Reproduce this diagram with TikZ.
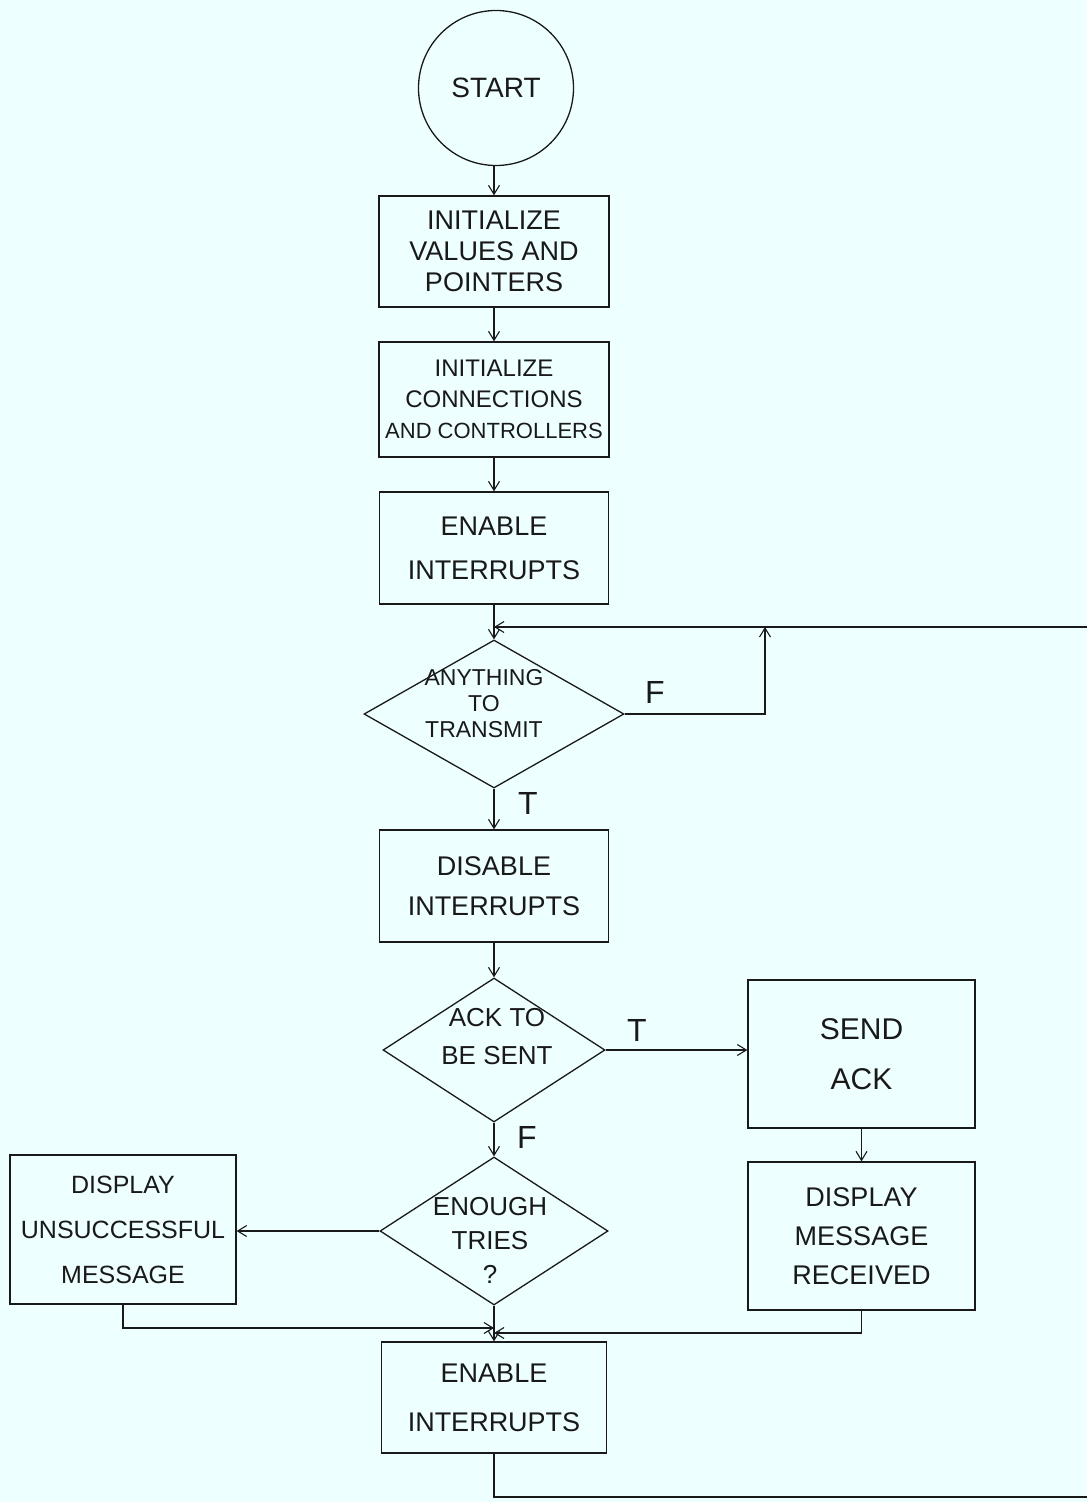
\documentclass[tikz,border=0pt]{standalone}
\usepackage{fontspec}
\setmainfont{Liberation Sans}
\usetikzlibrary{shapes.geometric,arrows.meta}
\definecolor{bg}{RGB}{238,255,255}
\definecolor{ink}{RGB}{25,25,25}
\newcommand\fsz[2]{\fontsize{#1}{#2}\selectfont}
\begin{document}
\begin{tikzpicture}[x=1pt,y=-1pt,
  ln/.style={draw=ink,line width=1.3pt},
  arr/.style={ln,-{Straight Barb[length=9pt,width=11pt,line width=1.1pt]}},
  box/.style={ln,rectangle,inner sep=0pt,align=center,text=ink},
  dia/.style={ln,diamond,inner sep=0pt},
  txt/.style={align=center,text=ink,inner sep=0pt},
  tf/.style={text=ink,inner sep=0pt,font=\fsz{32}{36}}
]
\fill[bg] (0,0) rectangle (1087,1502);
\useasboundingbox (0,0) rectangle (1087,1502);

% nodes
\node[ln,circle,minimum size=155pt,inner sep=0pt,text=ink,font=\fsz{28}{32}] (start) at (496,88) {START};
\node[box,minimum width=230pt,minimum height=111pt,font=\fsz{27}{31}] (b1) at (494,251.5) {INITIALIZE\\VALUES AND\\POINTERS};
\node[box,minimum width=230pt,minimum height=115pt,font=\fsz{22}{31}] (b2) at (494,399.5) {{\fsz{24}{31}INITIALIZE}\\{\fsz{24}{31}CONNECTIONS}\\AND CONTROLLERS};
\node[box,minimum width=229pt,minimum height=112pt,font=\fsz{27}{44}] (b3) at (494,548) {ENABLE\\INTERRUPTS};
\node[dia,minimum width=260pt,minimum height=148pt] (d1) at (494,714) {};
\node[txt,font=\fsz{23}{26}] (d1t) at (484,704) {ANYTHING\\TO\\TRANSMIT};
\node[box,minimum width=229pt,minimum height=112pt,font=\fsz{27}{40}] (b4) at (494,886) {DISABLE\\INTERRUPTS};
\node[dia,minimum width=222pt,minimum height=144pt] (d2) at (494,1050) {};
\node[txt,font=\fsz{26}{38}] (d2t) at (497,1037) {ACK TO\\BE SENT};
\node[box,minimum width=227pt,minimum height=148pt,font=\fsz{30}{50}] (b5) at (861.5,1054) {SEND\\ACK};
\node[box,minimum width=227pt,minimum height=148pt,font=\fsz{27}{39}] (b6) at (861.5,1236) {DISPLAY\\MESSAGE\\RECEIVED};
\node[dia,minimum width=228pt,minimum height=148pt] (d3) at (494,1231) {};
\node[txt,font=\fsz{26}{34}] (d3t) at (490,1240) {ENOUGH\\TRIES\\?};
\node[box,minimum width=226pt,minimum height=149pt,font=\fsz{25}{45}] (b7) at (123,1229.5) {DISPLAY\\UNSUCCESSFUL\\MESSAGE};
\node[box,minimum width=225pt,minimum height=111pt,font=\fsz{27}{49}] (b8) at (494,1397.5) {ENABLE\\INTERRUPTS};

% labels
\node[tf] (lf1) at (655,692) {F};
\node[tf] (lt1) at (528,803) {T};
\node[tf] (lt2) at (637,1030) {T};
\node[tf] (lf2) at (527,1137) {F};

% helper coordinates
\coordinate (fj) at (765,627);
\coordinate (rt) at (1087,627);
\coordinate (rb) at (1087,1497);
\coordinate (m1) at (494,1328);
\coordinate (m2) at (494,1333);

% connectors
\draw[arr] (b1.north |- start.south) -- (b1.north);
\draw[arr] (b1.south) -- (b2.north);
\draw[arr] (b2.south) -- (b3.north);
\draw[arr] (b3.south) -- (d1.north);
\draw[arr] (d1.east) -| (fj);
\draw[arr] (rt) -- (b3.south |- fj);
\draw[arr] (d1.south) -- (b4.north);
\draw[arr] (b4.south) -- (d2.north);
\draw[arr] (d2.east) -- (d2.east -| b5.west);
\draw[arr] (b5.south) -- (b6.north);
\draw[arr] (d2.south) -- (d3.north);
\draw[arr] (d3.west) -- (d3.west -| b7.east);
\draw[arr] (b7.south) |- (m1);
\draw[arr] (b6.south) |- (m2);
\draw[arr] (d3.south) -- (b8.north);
\draw[ln] (b8.south) |- (rb);
\end{tikzpicture}
\end{document}
